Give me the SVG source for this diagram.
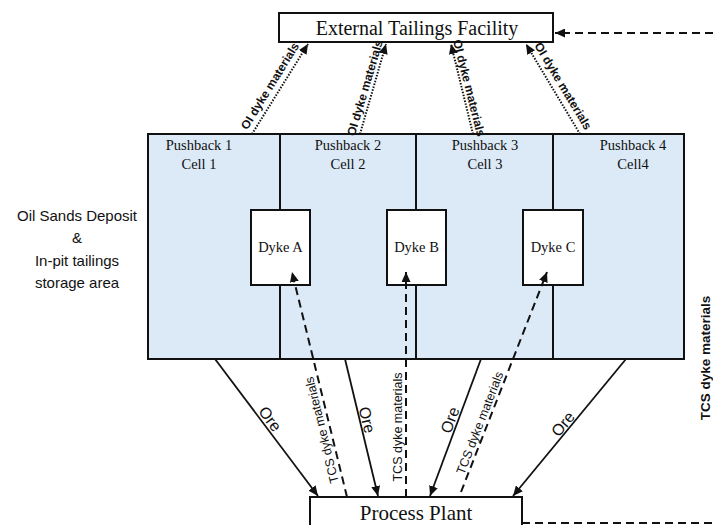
<svg xmlns="http://www.w3.org/2000/svg" width="713" height="525" viewBox="0 0 713 525">
<style>
.box{fill:#fff;stroke:#111;stroke-width:2}
.area{fill:#dce9f6;stroke:#111;stroke-width:2}
.div{stroke:#111;stroke-width:2;fill:none}
.serif{font-family:"Liberation Serif","Times New Roman",serif;fill:#111;text-anchor:middle}
.sans{font-family:"Liberation Sans",Arial,sans-serif;fill:#111;text-anchor:middle;dominant-baseline:central}
.solid{stroke:#111;stroke-width:1.8;fill:none;marker-end:url(#ah)}
.dash{stroke:#111;stroke-width:2;fill:none;stroke-dasharray:8 5}
.dot{stroke:#111;stroke-width:2;fill:none;stroke-dasharray:1.5 1.5;marker-end:url(#ah)}
</style>
<defs>
<marker id="ah" markerUnits="userSpaceOnUse" markerWidth="11" markerHeight="9" refX="10" refY="4.5" orient="auto">
<path d="M0,0 L10,4.5 L0,9 z" fill="#111"/>
</marker>
</defs>
<rect width="713" height="525" fill="#fff"/>

<g id="deposit">
<rect class="area" x="148" y="134" width="536" height="225"/>
<path class="div" d="M280,134V210M280,285V359M416,134V210M416,285V359M553,134V210M553,285V359"/>
<text class="serif" font-size="14.5" x="199" y="150">Pushback 1</text>
<text class="serif" font-size="14.5" x="199" y="169">Cell 1</text>
<text class="serif" font-size="14.5" x="348" y="150">Pushback 2</text>
<text class="serif" font-size="14.5" x="348" y="169">Cell 2</text>
<text class="serif" font-size="14.5" x="485" y="150">Pushback 3</text>
<text class="serif" font-size="14.5" x="485" y="169">Cell 3</text>
<text class="serif" font-size="14.5" x="633" y="150">Pushback 4</text>
<text class="serif" font-size="14.5" x="633" y="169">Cell4</text>
</g>

<g id="etf">
<rect class="box" x="279" y="13" width="274" height="29"/>
<text class="serif" font-size="20" x="417" y="35">External Tailings Facility</text>
</g>

<g id="dykeA">
<rect class="box" x="251" y="210" width="59" height="75"/>
<text class="serif" font-size="14.5" x="280.5" y="252">Dyke A</text>
</g>
<g id="dykeB">
<rect class="box" x="387" y="210" width="59" height="75"/>
<text class="serif" font-size="14.5" x="416.5" y="252">Dyke B</text>
</g>
<g id="dykeC">
<rect class="box" x="523" y="210" width="60" height="75"/>
<text class="serif" font-size="14.5" x="553" y="252">Dyke C</text>
</g>

<g id="plant">
<rect class="box" x="310" y="497" width="212" height="40"/>
<text class="serif" font-size="21" x="416" y="520">Process Plant</text>
</g>

<g id="left-label">
<text class="sans" font-size="15" x="77" y="215">Oil Sands Deposit</text>
<text class="sans" font-size="15" x="77" y="237">&amp;</text>
<text class="sans" font-size="15" x="77" y="260">In-pit tailings</text>
<text class="sans" font-size="15" x="77" y="282">storage area</text>
</g>

<g id="connectors">
<!-- OI dyke materials to External Tailings Facility -->
<line class="dot" x1="252" y1="134" x2="308" y2="44"/>
<line class="dot" x1="360" y1="134" x2="386" y2="44"/>
<line class="dot" x1="473" y1="134" x2="451" y2="44"/>
<line class="dot" x1="580" y1="134" x2="526" y2="44"/>
<text class="sans" font-size="12" font-weight="bold" transform="translate(270,86) rotate(-58.4)">OI dyke materials</text>
<text class="sans" font-size="12" font-weight="bold" transform="translate(365,88) rotate(-73.5)">OI dyke materials</text>
<text class="sans" font-size="12" font-weight="bold" transform="translate(469,88) rotate(75.8)">OI dyke materials</text>
<text class="sans" font-size="12" font-weight="bold" transform="translate(563,86) rotate(58.9)">OI dyke materials</text>

<!-- Ore to Process Plant -->
<line class="solid" x1="215" y1="359" x2="318" y2="496"/>
<line class="solid" x1="345" y1="359" x2="378" y2="496"/>
<line class="solid" x1="481" y1="359" x2="430" y2="496"/>
<line class="solid" x1="626" y1="359" x2="513" y2="496"/>
<text class="sans" font-size="16" transform="translate(270,419) rotate(53.3)">Ore</text>
<text class="sans" font-size="16" transform="translate(367,420) rotate(76.5)">Ore</text>
<text class="sans" font-size="16" transform="translate(450,420) rotate(-69.7)">Ore</text>
<text class="sans" font-size="16" transform="translate(563,424) rotate(-50.7)">Ore</text>

<!-- TCS dyke materials to dykes -->
<line class="dash" x1="347" y1="497" x2="292" y2="272" marker-end="url(#ah)"/>
<line class="dash" x1="406" y1="497" x2="406" y2="272" marker-end="url(#ah)"/>
<line class="dash" x1="461" y1="492" x2="547" y2="272" marker-end="url(#ah)"/>
<text class="sans" font-size="12.5" transform="translate(322,430) rotate(-103.7)">TCS dyke materials</text>
<text class="sans" font-size="12.5" transform="translate(398,427) rotate(-90)">TCS dyke materials</text>
<text class="sans" font-size="12.5" transform="translate(480,423) rotate(-68.7)">TCS dyke materials</text>

<!-- loop from plant to ETF (right side) -->
<line class="dash" x1="713" y1="33" x2="555" y2="33" marker-end="url(#ah)"/>
<line class="dash" x1="522" y1="523" x2="713" y2="523"/>
<text class="sans" font-size="13.5" font-weight="bold" transform="translate(705,358) rotate(-90)">TCS dyke materials</text>
</g>
</svg>
